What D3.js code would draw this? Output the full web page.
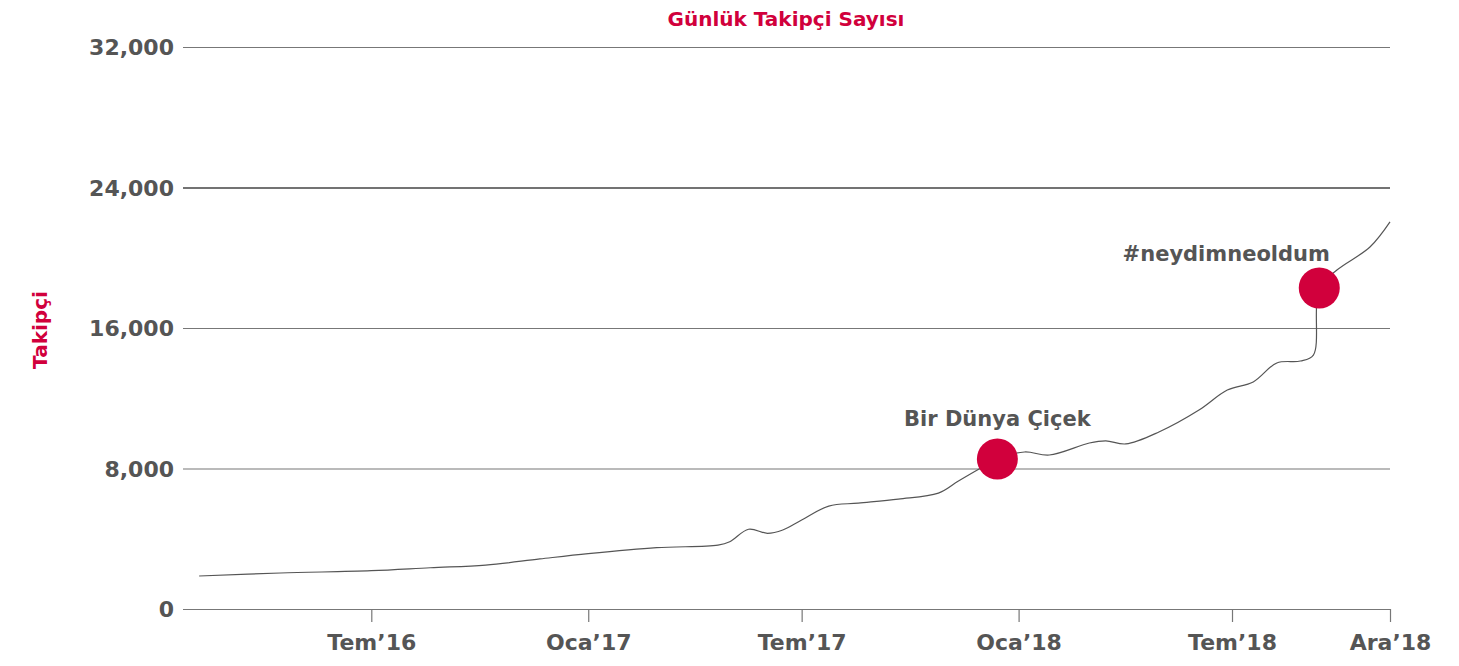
<!DOCTYPE html>
<html>
<head>
<meta charset="utf-8">
<script src="https://cdn.jsdelivr.net/npm/d3@7"></script>
<style>
  html, body { margin: 0; padding: 0; background: #fff; }
  svg text { font-family: "DejaVu Sans", "Liberation Sans", Arial, sans-serif; font-weight: bold; }
</style>
</head>
<body>
<svg id="chart" width="1459" height="666"></svg>
<script>
// ---- data ----
const dates = ["2016-02-06","2016-04-15","2016-07-01","2016-08-20","2016-10-06","2016-11-21",
  "2017-01-01","2017-02-28","2017-04-21","2017-05-01","2017-05-17","2017-06-02","2017-06-15",
  "2017-07-01","2017-07-24","2017-08-18","2017-09-21","2017-10-25","2017-11-11","2017-11-30",
  "2017-12-14","2018-01-06","2018-01-27","2018-03-02","2018-03-16","2018-04-02","2018-04-30",
  "2018-06-03","2018-06-27","2018-07-19","2018-08-08","2018-08-28","2018-09-08","2018-09-13",
  "2018-09-28","2018-10-26","2018-11-12"];
const followers = [1880,2050,2180,2350,2500,2850,
  3150,3490,3640,3830,4540,4310,4500,
  5070,5860,6030,6260,6600,7290,8030,
  8540,8940,8770,9450,9570,9400,10080,
  11330,12470,12930,14010,14120,14460,18280,
  19300,20610,22040];
const eventLabels = ["Bir Dünya Çiçek", "#neydimneoldum"];
const eventDates = ["2017-12-14", "2018-09-13"];
const eventValues = [8540, 18280];
const xTickDates = ["2016-07-01","2017-01-01","2017-07-01","2018-01-01","2018-07-01","2018-11-12"];
const xTickLabels = ["Tem\u201916","Oca\u201917","Tem\u201917","Oca\u201918","Tem\u201918","Ara\u201918"];
const yTicks = [0, 8000, 16000, 24000, 32000];
const domainStart = "2016-01-25", domainEnd = "2018-11-12";

// ---- chart ----
const parse = d3.timeParse("%Y-%m-%d");
const data = dates.map((d, i) => ({ date: parse(d), value: followers[i] }));
const svg = d3.select("#chart");
const margin = { left: 185, right: 69, top: 47, bottom: 57 };
const W = 1459, H = 666;
const red = "#d1003c", grey = "#555";

const x = d3.scaleTime().domain([parse(domainStart), parse(domainEnd)]).range([margin.left, W - margin.right]);
const y = d3.scaleLinear().domain([0, 32000]).range([H - margin.bottom, margin.top]);

// grid + y labels
const yAxis = d3.axisLeft(y).tickValues(yTicks).tickFormat(d3.format(",")).tickSize(-(W - margin.right - margin.left + 2)).tickPadding(9);
const gy = svg.append("g").attr("transform", `translate(${margin.left - 2},0)`).call(yAxis);
gy.select(".domain").remove();
gy.selectAll(".tick line")
  .attr("stroke", d => d === 24000 ? "#444" : "#777")
  .attr("stroke-width", d => d === 24000 ? 1.6 : 1.2);
gy.selectAll(".tick text").attr("fill", grey).style("font-size", "22px").attr("dy", "0.36em");

// x axis
const xAxis = d3.axisBottom(x).tickValues(xTickDates.map(parse)).tickFormat((d, i) => xTickLabels[i]).tickSize(13).tickPadding(12);
const gx = svg.append("g").attr("transform", `translate(0,${y(0)})`).call(xAxis);
gx.select(".domain").remove();
gx.selectAll(".tick line").attr("stroke", "#777").attr("stroke-width", 1.2);
gx.selectAll(".tick text").attr("fill", grey).style("font-size", "22px");

// line
const line = d3.line().x(d => x(d.date)).y(d => y(d.value)).curve(d3.curveCatmullRom.alpha(0.5));
svg.append("path").datum(data).attr("d", line).attr("fill", "none").attr("stroke", grey).attr("stroke-width", 1.2);

// events
const ev = eventLabels.map((l, i) => ({ label: l, date: parse(eventDates[i]), value: eventValues[i] }));
svg.selectAll("circle.ev").data(ev).enter().append("circle").attr("class", "ev")
  .attr("cx", d => x(d.date)).attr("cy", d => y(d.value)).attr("r", 20.5).attr("fill", red);
svg.selectAll("text.ev").data(ev).enter().append("text").attr("class", "ev")
  .attr("x", (d, i) => x(d.date) + (i === 1 ? -93 : 0)).attr("y", (d, i) => y(d.value) - (i === 1 ? 27 : 33))
  .attr("text-anchor", "middle").attr("fill", grey).style("font-size", "21px").text(d => d.label);

// title and y label
svg.append("text").attr("x", 786).attr("y", 26).attr("text-anchor", "middle").attr("fill", red)
  .style("font-size", "20px").text("Günlük Takipçi Sayısı");
svg.append("text").attr("transform", "translate(47,330) rotate(-90)").attr("text-anchor", "middle").attr("fill", red)
  .style("font-size", "20px").text("Takipçi");
</script>
</body>
</html>
